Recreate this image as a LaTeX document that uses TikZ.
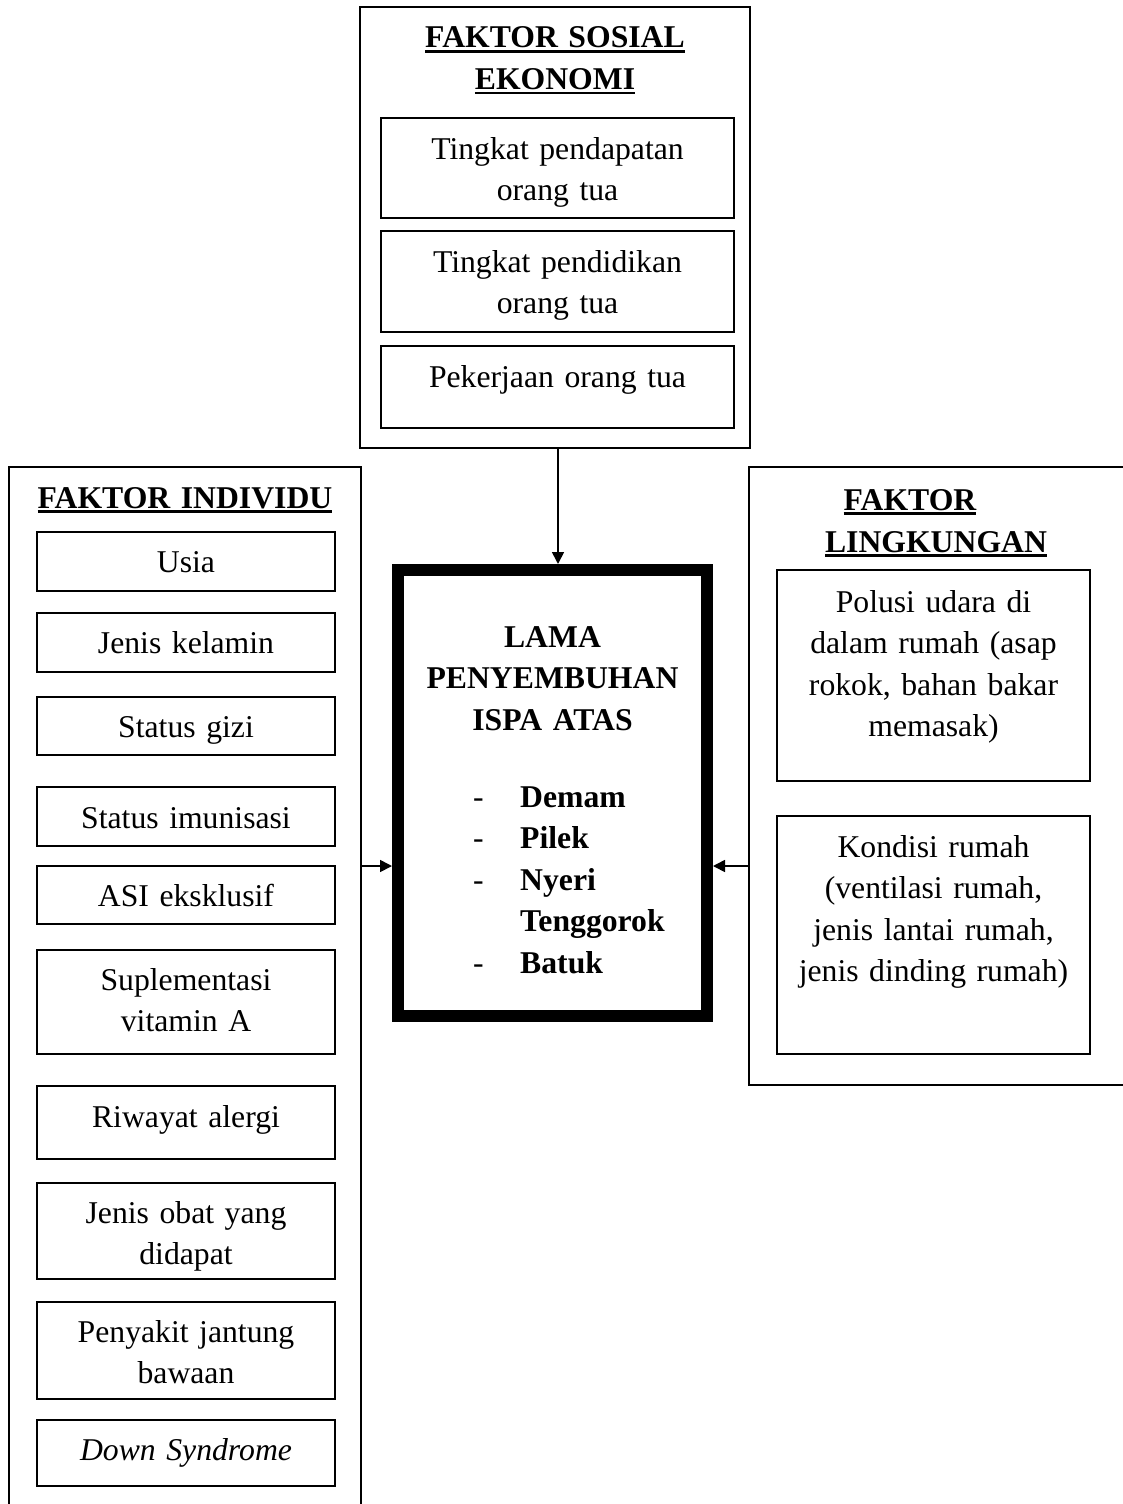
\documentclass[tikz,border=0pt]{standalone}
\usepackage{fontspec}
\setmainfont{Liberation Serif}
\usetikzlibrary{arrows.meta}
\newcommand{\fsz}{\fontsize{31.7pt}{41.5pt}\selectfont}
\newcommand{\ulbar}[1]{\leavevmode\hbox{\setbox0\hbox{#1}\rlap{\rule[-5pt]{\wd0}{2.6pt}}\box0}}
\tikzset{
  frame/.style={draw, line width=1.7pt, inner sep=0pt},
  itembox/.style={draw, line width=1.7pt, inner sep=0pt},
  mainbox/.style={draw, line width=12pt, inner sep=0pt},
  txt/.style={font=\fsz, align=center, anchor=base, inner sep=0pt},
  ttl/.style={font=\fsz\bfseries, align=center, anchor=base, inner sep=0pt},
  arr/.style={line width=1.7pt, -{Triangle[length=12pt,width=12pt]}}
}
\begin{document}
\begin{tikzpicture}[x=1pt,y=-1pt]
\useasboundingbox (0,0) rectangle (1123,1504);
% ---------- top frame: sosial ekonomi ----------
\node[frame, minimum width=390, minimum height=441] (sos) at (555,227.5) {};
\node[ttl, text width=380] (sosT) at (555,48) {\ulbar{FAKTOR SOSIAL}\\\ulbar{EKONOMI}};
\node[itembox, minimum width=353, minimum height=100] (pend) at (557.5,168) {};
\node[txt, text width=350] (pendT) at (557.5,159) {Tingkat pendapatan\\orang tua};
\node[itembox, minimum width=353, minimum height=101] (didik) at (557.5,281.5) {};
\node[txt, text width=350] (didikT) at (557.5,272) {Tingkat pendidikan\\orang tua};
\node[itembox, minimum width=353, minimum height=82] (kerja) at (557.5,387) {};
\node[txt, text width=350] (kerjaT) at (557.5,387) {Pekerjaan orang tua};
% ---------- left frame: individu ----------
\node[frame, minimum width=352, minimum height=1063] (ind) at (185,998.5) {};
\node[ttl, text width=345] (indT) at (185,508) {\ulbar{FAKTOR INDIVIDU}};
\node[itembox, minimum width=298, minimum height=59] (usia) at (186,561.5) {};
\node[txt, text width=295] (usiaT) at (186,572) {Usia};
\node[itembox, minimum width=298, minimum height=59] (jk) at (186,642.5) {};
\node[txt, text width=295] (jkT) at (186,653) {Jenis kelamin};
\node[itembox, minimum width=298, minimum height=58] (gizi) at (186,726) {};
\node[txt, text width=295] (giziT) at (186,737) {Status gizi};
\node[itembox, minimum width=298, minimum height=59] (imun) at (186,816.5) {};
\node[txt, text width=295] (imunT) at (186,828) {Status imunisasi};
\node[itembox, minimum width=298, minimum height=58] (asi) at (186,895) {};
\node[txt, text width=295] (asiT) at (186,906) {ASI eksklusif};
\node[itembox, minimum width=298, minimum height=104] (supl) at (186,1002) {};
\node[txt, text width=295] (suplT) at (186,990) {Suplementasi\\vitamin A};
\node[itembox, minimum width=298, minimum height=73] (alergi) at (186,1122.5) {};
\node[txt, text width=295] (alergiT) at (186,1127) {Riwayat alergi};
\node[itembox, minimum width=298, minimum height=96] (obat) at (186,1231) {};
\node[txt, text width=295] (obatT) at (186,1223) {Jenis obat yang\\didapat};
\node[itembox, minimum width=298, minimum height=97] (jantung) at (186,1350.5) {};
\node[txt, text width=295] (jantungT) at (186,1342) {Penyakit jantung\\bawaan};
\node[itembox, minimum width=298, minimum height=66] (down) at (186,1453) {};
\node[txt, text width=295] (downT) at (186,1460) {\itshape Down Syndrome};
% ---------- right frame: lingkungan ----------
\node[frame, minimum width=391, minimum height=618] (ling) at (944.5,776) {};
\node[ttl] (lingT1) at (910,510) {\ulbar{FAKTOR}};
\node[ttl] (lingT2) at (936,552) {\ulbar{LINGKUNGAN}};
\node[itembox, minimum width=313, minimum height=211] (polusi) at (933.5,675.5) {};
\node[txt, text width=310] (polusiT) at (933.5,612) {Polusi udara di\\dalam rumah (asap\\rokok, bahan bakar\\memasak)};
\node[itembox, minimum width=313, minimum height=238] (kondisi) at (933.5,935) {};
\node[txt, text width=310] (kondisiT) at (933.5,857) {Kondisi rumah\\(ventilasi rumah,\\jenis lantai rumah,\\jenis dinding rumah)};
% ---------- centre box ----------
\node[mainbox, minimum width=309, minimum height=446] (hasil) at (552.5,793) {};
\node[ttl, text width=305] (hasilT) at (552.5,647) {LAMA\\PENYEMBUHAN\\ISPA ATAS};
\node[font=\fsz, align=left, text width=220, anchor=base west, inner sep=0pt] (gejala) at (473,807)
  {\makebox[47pt][l]{-}\textbf{Demam}\\
   \makebox[47pt][l]{-}\textbf{Pilek}\\
   \makebox[47pt][l]{-}\textbf{Nyeri}\\
   \makebox[47pt][l]{}\textbf{Tenggorok}\\
   \makebox[47pt][l]{-}\textbf{Batuk}};
% ---------- connectors ----------
\coordinate (ya) at (0,866);
\draw[arr] ([xshift=3pt]sos.south) -- ([xshift=3pt]sos.south |- hasil.north);
\draw[arr] (ind.east |- ya) -- (hasil.west |- ya);
\draw[arr] (ling.west |- ya) -- (hasil.east |- ya);
\end{tikzpicture}
\end{document}
